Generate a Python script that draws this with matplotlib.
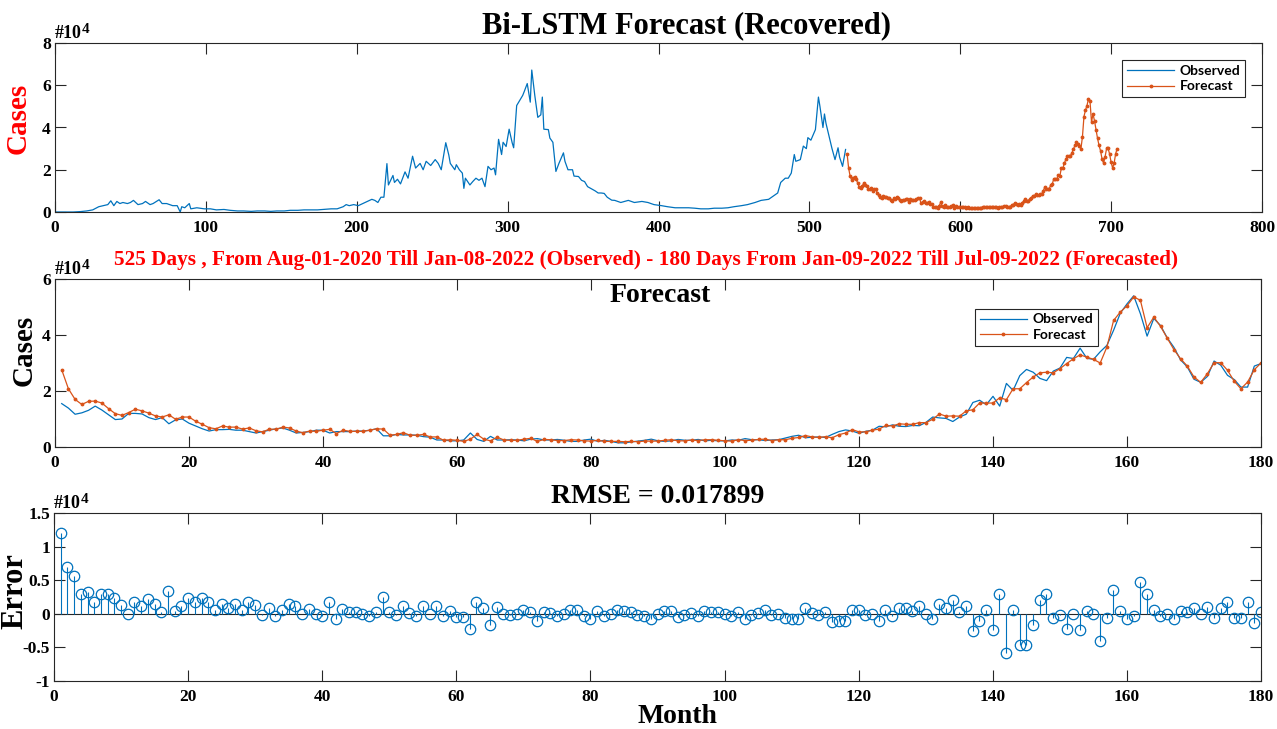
"""
Bi-LSTM forecast figure: recovered series, 180-day forecast and error stems.
Values are in units of 10^4 cases.
"""

import numpy as np
import matplotlib

matplotlib.use("Agg")
import matplotlib.pyplot as plt

BLUE = "#0072BD"
ORANGE = "#D95319"
EDGE = "#262626"

# observed series (days 0..524)
obs_days = [0, 12, 17, 21, 25, 29, 32, 35, 37, 39, 41, 43, 45, 48, 50, 52, 55, 58, 60, 63,
            65, 69, 71, 74, 78, 81, 83, 84, 86, 89, 90, 94, 99, 103, 107, 112, 116, 121, 125, 130,
            134, 139, 143, 147, 152, 156, 161, 165, 170, 174, 178, 183, 187, 191, 193, 195, 198, 201, 204, 207,
            210, 212, 214, 216, 218, 220, 221, 224, 225, 227, 229, 232, 234, 237, 239, 242, 244, 246, 249, 252,
            254, 256, 259, 261, 262, 265, 266, 268, 270, 271, 272, 275, 277, 279, 281, 283, 285, 287, 289, 291,
            292, 294, 296, 297, 299, 301, 303, 304, 306, 308, 310, 311, 313, 315, 316, 318, 320, 322, 323, 324,
            327, 328, 330, 332, 334, 337, 338, 340, 343, 344, 347, 349, 351, 353, 355, 358, 360, 362, 364, 366,
            369, 371, 375, 380, 384, 389, 393, 397, 402, 406, 411, 415, 420, 424, 428, 433, 437, 442, 446, 450,
            455, 459, 464, 468, 473, 477, 479, 481, 484, 486, 488, 490, 491, 494, 496, 498, 499, 501, 504, 506,
            507, 509, 510, 511, 513, 515, 517, 519, 520, 522, 524]
obs_cases = [0.00, 0.00, 0.02, 0.05, 0.10, 0.25, 0.30, 0.35, 0.53, 0.30, 0.50, 0.40, 0.45, 0.40, 0.45, 0.55, 0.35, 0.40, 0.50, 0.35,
             0.40, 0.58, 0.40, 0.40, 0.30, 0.30, 0.00, 0.25, 0.20, 0.40, 0.15, 0.20, 0.15, 0.15, 0.10, 0.12, 0.08, 0.05, 0.05, 0.03,
             0.05, 0.05, 0.03, 0.05, 0.05, 0.08, 0.08, 0.10, 0.10, 0.10, 0.12, 0.15, 0.15, 0.25, 0.35, 0.30, 0.35, 0.30, 0.40, 0.50,
             0.60, 0.55, 0.45, 0.70, 0.70, 2.29, 1.28, 1.73, 1.40, 1.55, 1.33, 1.90, 1.60, 2.64, 2.08, 2.30, 2.00, 2.40, 2.20, 2.48,
             2.30, 2.00, 3.28, 2.70, 2.30, 2.00, 2.24, 2.00, 1.84, 1.12, 1.60, 1.28, 1.45, 1.60, 1.50, 1.60, 1.20, 2.16, 2.00, 2.08,
             1.76, 3.44, 2.72, 3.30, 3.10, 3.92, 3.28, 3.04, 5.04, 5.28, 5.52, 5.70, 6.08, 5.20, 6.72, 5.52, 4.48, 4.60, 5.44, 3.92,
             3.90, 3.50, 3.30, 1.92, 2.30, 2.80, 2.40, 2.00, 2.00, 1.70, 1.68, 1.50, 1.44, 1.20, 1.12, 1.00, 0.90, 0.90, 0.88, 0.70,
             0.56, 0.55, 0.45, 0.55, 0.45, 0.50, 0.45, 0.35, 0.30, 0.25, 0.20, 0.20, 0.20, 0.18, 0.15, 0.15, 0.18, 0.18, 0.20, 0.25,
             0.30, 0.35, 0.45, 0.55, 0.60, 0.80, 0.90, 1.40, 1.60, 1.60, 1.84, 2.72, 2.40, 2.48, 3.12, 3.00, 3.52, 3.40, 3.90, 5.44,
             5.00, 4.00, 4.64, 4.20, 3.60, 3.00, 2.48, 3.04, 2.60, 2.16, 2.96]

# 180-day test window
test_observed = [1.55, 1.39, 1.17, 1.22, 1.31, 1.46, 1.32, 1.15, 0.98, 1.00,
                 1.20, 1.20, 1.18, 1.05, 0.98, 1.05, 0.83, 0.97, 1.00, 0.85,
                 0.75, 0.65, 0.57, 0.62, 0.62, 0.63, 0.60, 0.60, 0.55, 0.50,
                 0.55, 0.60, 0.65, 0.68, 0.60, 0.50, 0.52, 0.55, 0.60, 0.60,
                 0.50, 0.55, 0.55, 0.55, 0.57, 0.57, 0.60, 0.65, 0.40, 0.40,
                 0.45, 0.43, 0.43, 0.42, 0.37, 0.35, 0.25, 0.25, 0.22, 0.22,
                 0.25, 0.50, 0.27, 0.20, 0.38, 0.25, 0.25, 0.26, 0.25, 0.22,
                 0.28, 0.30, 0.25, 0.25, 0.27, 0.24, 0.20, 0.20, 0.25, 0.28,
                 0.20, 0.24, 0.20, 0.15, 0.15, 0.18, 0.21, 0.24, 0.28, 0.22,
                 0.20, 0.22, 0.27, 0.24, 0.24, 0.27, 0.22, 0.24, 0.22, 0.22,
                 0.25, 0.24, 0.30, 0.26, 0.26, 0.23, 0.25, 0.26, 0.32, 0.38,
                 0.42, 0.33, 0.35, 0.36, 0.34, 0.45, 0.55, 0.61, 0.57, 0.49,
                 0.56, 0.60, 0.74, 0.72, 0.79, 0.74, 0.73, 0.77, 0.76, 0.88,
                 1.07, 1.04, 1.02, 0.91, 1.07, 1.17, 1.59, 1.67, 1.51, 1.81,
                 1.46, 2.27, 2.02, 2.55, 2.77, 2.67, 2.45, 2.37, 2.71, 2.82,
                 3.20, 3.16, 3.53, 3.17, 3.13, 3.40, 3.63, 4.17, 4.78, 5.11,
                 5.40, 4.76, 3.96, 4.59, 4.34, 3.90, 3.56, 3.11, 2.86, 2.42,
                 2.31, 2.52, 3.07, 2.92, 2.56, 2.41, 2.14, 2.14, 2.89, 2.98]
test_forecast = [2.76, 2.08, 1.70, 1.52, 1.63, 1.64, 1.57, 1.37, 1.19, 1.13,
                 1.23, 1.35, 1.29, 1.21, 1.11, 1.07, 1.15, 0.99, 1.07, 1.07,
                 0.92, 0.81, 0.69, 0.65, 0.75, 0.71, 0.71, 0.64, 0.68, 0.58,
                 0.54, 0.64, 0.63, 0.71, 0.68, 0.57, 0.51, 0.57, 0.56, 0.60,
                 0.63, 0.48, 0.60, 0.56, 0.56, 0.56, 0.60, 0.65, 0.64, 0.42,
                 0.45, 0.51, 0.42, 0.42, 0.45, 0.36, 0.36, 0.24, 0.26, 0.24,
                 0.20, 0.28, 0.45, 0.28, 0.22, 0.35, 0.25, 0.24, 0.24, 0.28,
                 0.31, 0.20, 0.27, 0.26, 0.23, 0.23, 0.26, 0.25, 0.22, 0.21,
                 0.24, 0.20, 0.20, 0.20, 0.19, 0.20, 0.19, 0.21, 0.21, 0.21,
                 0.24, 0.26, 0.22, 0.22, 0.25, 0.23, 0.26, 0.26, 0.24, 0.22,
                 0.21, 0.26, 0.23, 0.24, 0.27, 0.28, 0.23, 0.26, 0.26, 0.31,
                 0.34, 0.41, 0.36, 0.34, 0.37, 0.33, 0.44, 0.50, 0.62, 0.54,
                 0.54, 0.60, 0.64, 0.77, 0.75, 0.83, 0.81, 0.81, 0.87, 0.87,
                 0.99, 1.18, 1.10, 1.11, 1.10, 1.29, 1.33, 1.57, 1.57, 1.57,
                 1.76, 1.69, 2.08, 2.08, 2.30, 2.50, 2.65, 2.67, 2.65, 2.80,
                 2.98, 3.15, 3.29, 3.21, 3.13, 3.00, 3.57, 4.52, 4.82, 5.04,
                 5.36, 5.24, 4.26, 4.64, 4.31, 3.89, 3.48, 3.15, 2.89, 2.50,
                 2.31, 2.62, 3.01, 3.01, 2.74, 2.35, 2.08, 2.32, 2.76, 3.00]
test_error = [1.20, 0.70, 0.56, 0.29, 0.32, 0.18, 0.30, 0.30, 0.23, 0.13,
              0.00, 0.17, 0.11, 0.22, 0.14, 0.03, 0.34, 0.04, 0.11, 0.24,
              0.18, 0.23, 0.17, 0.06, 0.14, 0.08, 0.14, 0.06, 0.18, 0.13,
              -0.02, 0.08, -0.04, 0.06, 0.14, 0.12, 0.00, 0.07, -0.01, -0.03,
              0.17, -0.07, 0.07, 0.02, 0.02, -0.01, -0.04, 0.02, 0.25, 0.02,
              -0.02, 0.11, 0.01, -0.03, 0.11, 0.00, 0.12, -0.04, 0.04, -0.05,
              -0.05, -0.22, 0.18, 0.08, -0.16, 0.10, 0.00, -0.02, -0.01, 0.06,
              0.03, -0.10, 0.02, 0.01, -0.04, -0.01, 0.06, 0.05, -0.03, -0.07,
              0.04, -0.04, 0.00, 0.05, 0.04, 0.02, -0.02, -0.03, -0.07, -0.01,
              0.04, 0.04, -0.05, -0.02, 0.01, -0.04, 0.04, 0.02, 0.02, 0.00,
              -0.04, 0.02, -0.07, -0.02, 0.01, 0.05, -0.02, 0.00, -0.06, -0.07,
              -0.08, 0.08, 0.01, -0.02, 0.03, -0.12, -0.11, -0.11, 0.05, 0.05,
              -0.02, 0.00, -0.10, 0.05, -0.04, 0.09, 0.08, 0.04, 0.11, -0.01,
              -0.08, 0.14, 0.08, 0.20, 0.03, 0.12, -0.26, -0.10, 0.06, -0.24,
              0.30, -0.58, 0.06, -0.47, -0.47, -0.17, 0.20, 0.30, -0.06, -0.02,
              -0.22, -0.01, -0.24, 0.04, 0.00, -0.40, -0.06, 0.35, 0.04, -0.07,
              -0.04, 0.48, 0.30, 0.05, -0.03, -0.01, -0.08, 0.04, 0.03, 0.08,
              0.00, 0.10, -0.06, 0.09, 0.18, -0.06, -0.06, 0.18, -0.13, 0.02]
FORECAST_OFFSET = 525  # day index of test step 0 on the recovered axis

plt.rcParams["font.family"] = "Liberation Serif"
plt.rcParams["font.weight"] = "bold"
plt.rcParams["axes.labelweight"] = "bold"
plt.rcParams["axes.unicode_minus"] = False

W, H = 1277, 729


def _axes(fig, left, top, right, bottom):
    """Axes from pixel box."""
    return fig.add_axes([left / W, 1 - bottom / H, (right - left) / W, (bottom - top) / H])


def _style(ax):
    ax.tick_params(direction="in", length=8, width=0.8, top=True, right=True,
                   labelsize=12.5, color=EDGE, labelcolor="black")
    ax.tick_params(axis="x", pad=6)
    ax.tick_params(axis="y", pad=3)
    for s in ax.spines.values():
        s.set_color(EDGE)
        s.set_linewidth(0.8)


def _exp(ax):
    ax.text(0.0, 1.005, "#10", transform=ax.transAxes, ha="left", va="bottom", fontsize=13)
    ax.annotate("4", xy=(0, 1), xycoords="axes fraction", xytext=(19, 5),
                textcoords="offset points", fontsize=11, ha="left", va="bottom")


def _legend(ax, **kw):
    leg = ax.legend(prop=dict(family="Lato", size=10, weight="bold"), fancybox=False,
                    edgecolor=EDGE, framealpha=1, handlelength=3.4, borderpad=0.35,
                    labelspacing=0.25, handletextpad=0.4, **kw)
    leg.get_frame().set_linewidth(0.8)


fig = plt.figure(figsize=(W / 100, H / 100), dpi=100)

# top panel: recovered series
ax1 = _axes(fig, 55, 43, 1262, 212)
fc_days = FORECAST_OFFSET + np.arange(len(test_forecast))
ax1.plot(obs_days, obs_cases, color=BLUE, lw=0.9, label="Observed")
ax1.plot(fc_days, test_forecast, color=ORANGE, lw=0.9, marker=".", ms=3.5, label="Forecast")
ax1.set_xlim(0, 800)
ax1.set_ylim(0, 8)
ax1.set_xticks(range(0, 801, 100))
ax1.set_yticks([0, 2, 4, 6, 8])
ax1.set_ylabel("Cases", color="red", fontsize=21)
ax1.yaxis.set_label_coords(-0.019, 0.556)
_style(ax1)
_exp(ax1)
_legend(ax1, loc="upper right", bbox_to_anchor=(0.992, 0.94))

# middle panel: test window
ax2 = _axes(fig, 55, 279, 1261, 447)
days = np.arange(1, len(test_observed) + 1)
ax2.plot(days, test_observed, color=BLUE, lw=0.9, label="Observed")
ax2.plot(days, test_forecast, color=ORANGE, lw=0.9, marker=".", ms=3.5, label="Forecast")
ax2.set_xlim(0, 180)
ax2.set_ylim(0, 6)
ax2.set_xticks(range(0, 181, 20))
ax2.set_yticks([0, 2, 4, 6])
ax2.set_ylabel("Cases", fontsize=21)
ax2.yaxis.set_label_coords(-0.014, 0.576)
_style(ax2)
_exp(ax2)
_legend(ax2, loc="upper left", bbox_to_anchor=(0.757, 0.865))

# bottom panel: error stems
ax3 = _axes(fig, 54, 513, 1261, 681)
ax3.axhline(0, color=EDGE, lw=0.8, zorder=1)
markerline, stemlines, baseline = ax3.stem(days, test_error, linefmt="-", markerfmt="o", basefmt=" ")
stemlines.set_color(BLUE)
stemlines.set_linewidth(0.8)
markerline.set_markerfacecolor("none")
markerline.set_markeredgecolor(BLUE)
markerline.set_markersize(7.5)
markerline.set_markeredgewidth(0.9)
ax3.set_xlim(0, 180)
ax3.set_ylim(-1, 1.5)
ax3.set_xticks(range(0, 181, 20))
ax3.set_yticks([-1, -0.5, 0, 0.5, 1, 1.5])
ax3.set_yticklabels(["-1", "-0.5", "0", "0.5", "1", "1.5"])
ax3.set_ylabel("Error", fontsize=22)
ax3.yaxis.set_label_coords(-0.020, 0.536)
_style(ax3)
_exp(ax3)

# titles
fig.text(686 / W, 1 - 33 / H, "Bi-LSTM Forecast (Recovered)", ha="center", va="baseline", fontsize=22)
fig.text(646 / W, 1 - 265 / H,
         "525 Days , From Aug-01-2020 Till Jan-08-2022 (Observed) - 180 Days From Jan-09-2022 "
         "Till Jul-09-2022 (Forecasted)", ha="center", va="baseline", fontsize=15.3, color="red")
fig.text(660 / W, 1 - 302 / H, "Forecast", ha="center", va="baseline", fontsize=20)
fig.text(658 / W, 1 - 503 / H, "RMSE = 0.017899", ha="center", va="baseline", fontsize=20)
fig.text(677 / W, 1 - 723 / H, "Month", ha="center", va="baseline", fontsize=20)

fig.savefig("out.png", dpi=100)
